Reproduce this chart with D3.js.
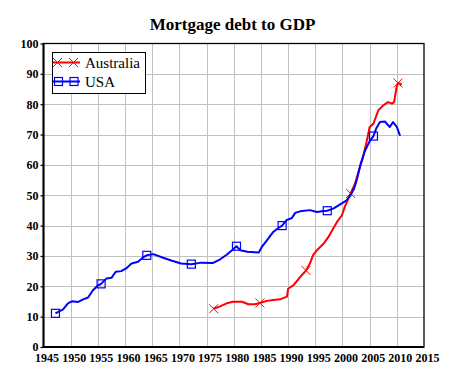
<!DOCTYPE html>
<html>
<head>
<meta charset="utf-8">
<script src="https://cdn.jsdelivr.net/npm/d3@7"></script>
<style>
html,body{margin:0;padding:0;background:#fff;}
svg{display:block;}
</style>
</head>
<body>
<svg id="chart" width="452" height="385"></svg>
<script>
const title = "Mortgage debt to GDP";
const xTicks = [1945,1950,1955,1960,1965,1970,1975,1980,1985,1990,1995,2000,2005,2010,2015];
const yTicks = [0,10,20,30,40,50,60,70,80,90,100];
const seriesNames = ["Australia","USA"];

const usaYears = [1947.2,1948.6,1949.5,1950.3,1951.3,1952.3,1953.2,1954.1,1954.9,1955.6,1956.6,1957.5,1958.3,1959.3,1960.2,1961.2,1962.4,1963.3,1964.0,1965.2,1967.0,1968.5,1970.3,1972.2,1974.0,1976.2,1977.5,1978.7,1979.9,1980.5,1981.2,1982.5,1984.6,1985.1,1986.2,1987.2,1988.2,1988.9,1989.7,1990.7,1991.3,1992.2,1994.0,1995.3,1996.5,1997.2,1998.3,1999.5,2000.7,2001.5,2002.2,2002.7,2003.3,2004.1,2005.0,2005.7,2006.2,2006.9,2007.8,2008.7,2009.3,2010.0,2010.6];
const usaValues = [11.1,12.4,14.4,15.1,14.8,15.7,16.3,18.7,20.1,20.8,22.6,22.8,24.8,25.0,25.9,27.5,28.1,29.5,30.2,30.6,29.4,28.5,27.5,27.3,27.8,27.7,28.9,30.4,32.2,33.2,31.9,31.4,31.1,32.8,35.4,37.8,39.2,40.0,41.8,42.5,44.2,44.7,45.1,44.5,44.8,44.9,45.6,46.9,48.2,50.0,52.5,55.5,60.0,64.5,67.8,69.5,72.0,74.1,74.3,72.5,74.1,72.5,69.6];
const usaMarkerYears = [1947.2,1955.6,1964.0,1972.2,1980.5,1988.9,1997.2,2005.7];

const ausYears = [1976.3,1977.5,1978.7,1979.9,1981.5,1982.7,1983.9,1984.8,1986.1,1987.3,1988.5,1989.8,1990.0,1991.0,1992.2,1993.3,1994.0,1994.6,1995.3,1996.5,1997.4,1998.2,1999.0,1999.9,2000.5,2001.5,2002.3,2003.2,2003.8,2004.5,2005.0,2005.7,2006.6,2007.5,2008.4,2009.1,2009.5,2009.9,2010.2,2010.9];
const ausValues = [12.6,13.4,14.4,14.9,14.9,14.1,14.1,14.5,15.2,15.5,15.7,16.6,19.2,20.4,23.0,25.2,27.5,30.3,31.9,34.0,36.2,38.7,41.2,43.4,46.5,50.6,53.8,59.3,62.6,68.1,72.5,73.6,78.0,79.6,80.7,80.2,80.7,85.1,87.0,86.5];
const ausMarkerYears = [1976.3,1984.8,1993.3,2001.5,2010.2];

const svg = d3.select("#chart");
const L = 43.5, R = 424, T = 43.5, B = 347;
const x = d3.scaleLinear().domain([1945,2015]).range([L,R]);
const y = d3.scaleLinear().domain([0,100]).range([B,T]);
const serif = "'Liberation Serif','Times New Roman',serif";

// title
svg.append("text").attr("x",232.5).attr("y",30).attr("text-anchor","middle")
  .attr("font-family",serif).attr("font-weight","bold").attr("font-size",17)
  .text(title);

// grid
const g = svg.append("g");
g.selectAll(".vg").data(xTicks.slice(1,-1)).enter().append("line")
  .attr("x1",d=>Math.round(x(d))+0.5).attr("x2",d=>Math.round(x(d))+0.5)
  .attr("y1",T).attr("y2",B).attr("stroke","#c0c0c0").attr("stroke-width",1);
g.selectAll(".hg").data(yTicks.slice(1,-1)).enter().append("line")
  .attr("y1",d=>Math.round(y(d))+0.5).attr("y2",d=>Math.round(y(d))+0.5)
  .attr("x1",L).attr("x2",R).attr("stroke","#c0c0c0").attr("stroke-width",1);

// frame
svg.append("rect").attr("x",L).attr("y",T).attr("width",R-L).attr("height",B-T)
  .attr("fill","none").attr("stroke","#000").attr("stroke-width",1.3);
svg.append("line").attr("x1",L).attr("x2",L).attr("y1",T).attr("y2",B+1).attr("stroke","#000").attr("stroke-width",2);
svg.append("line").attr("x1",L).attr("x2",R).attr("y1",B).attr("y2",B).attr("stroke","#000").attr("stroke-width",2);

// y axis ticks & labels
const yAxis = d3.axisLeft(y).tickValues(yTicks).tickSize(3).tickPadding(2);
const ya = svg.append("g").attr("transform",`translate(${L},0)`).call(yAxis);
ya.select(".domain").remove();
ya.selectAll("line").attr("stroke","#000").attr("stroke-width",1.2);
ya.selectAll("text").attr("font-family",serif).attr("font-weight","bold").attr("font-size",12).attr("fill","#000");

// x axis labels
const xAxis = d3.axisBottom(x).tickValues(xTicks).tickFormat(d3.format("d")).tickSize(0).tickPadding(6);
const xa = svg.append("g").attr("transform",`translate(0,${B})`).call(xAxis);
xa.select(".domain").remove();
xa.selectAll("text").attr("font-family",serif).attr("font-weight","bold").attr("font-size",12).attr("fill","#000").attr("dx",3);

// lines
const line = d3.line().x(d=>x(d[0])).y(d=>y(d[1]));
const aus = d3.zip(ausYears, ausValues);
const usa = d3.zip(usaYears, usaValues);

function drawX(sel, cx, cy){
  const s = 4.5;
  sel.append("path").attr("d",`M${cx-s},${cy-s}L${cx+s},${cy+s}M${cx-s},${cy+s}L${cx+s},${cy-s}`)
    .attr("stroke","#ff0000").attr("stroke-width",1).attr("fill","none");
}
function drawSq(sel, cx, cy){
  sel.append("rect").attr("x",cx-4).attr("y",cy-4).attr("width",8).attr("height",8)
    .attr("fill","none").attr("stroke","#0000ff").attr("stroke-width",1.2);
}

svg.append("path").datum(aus).attr("d",line).attr("fill","none").attr("stroke","#ff0000").attr("stroke-width",2).attr("stroke-linejoin","round");
const am = svg.append("g");
aus.filter(d=>ausMarkerYears.includes(d[0])).forEach(d=>drawX(am, x(d[0]), y(d[1])));

svg.append("path").datum(usa).attr("d",line).attr("fill","none").attr("stroke","#0000ff").attr("stroke-width",2).attr("stroke-linejoin","round");
const um = svg.append("g");
usa.filter(d=>usaMarkerYears.includes(d[0])).forEach(d=>drawSq(um, x(d[0]), y(d[1])));

// legend
const lg = svg.append("g");
lg.append("rect").attr("x",52.5).attr("y",52.5).attr("width",93).attr("height",41)
  .attr("fill","#fff").attr("stroke","#000").attr("stroke-width",1);
const legY = [62.5, 81.5];
lg.append("line").attr("x1",53).attr("x2",80).attr("y1",legY[0]).attr("y2",legY[0]).attr("stroke","#ff0000").attr("stroke-width",2);
drawX(lg,57.5,legY[0]); drawX(lg,73.5,legY[0]);
lg.append("line").attr("x1",53).attr("x2",80).attr("y1",legY[1]).attr("y2",legY[1]).attr("stroke","#0000ff").attr("stroke-width",2);
drawSq(lg,58.5,legY[1]); drawSq(lg,74,legY[1]);
seriesNames.forEach((n,i)=>{
  lg.append("text").attr("x",85).attr("y",legY[i]+5).attr("font-family",serif).attr("font-size",15).attr("fill","#000").text(n);
});
</script>
</body>
</html>
